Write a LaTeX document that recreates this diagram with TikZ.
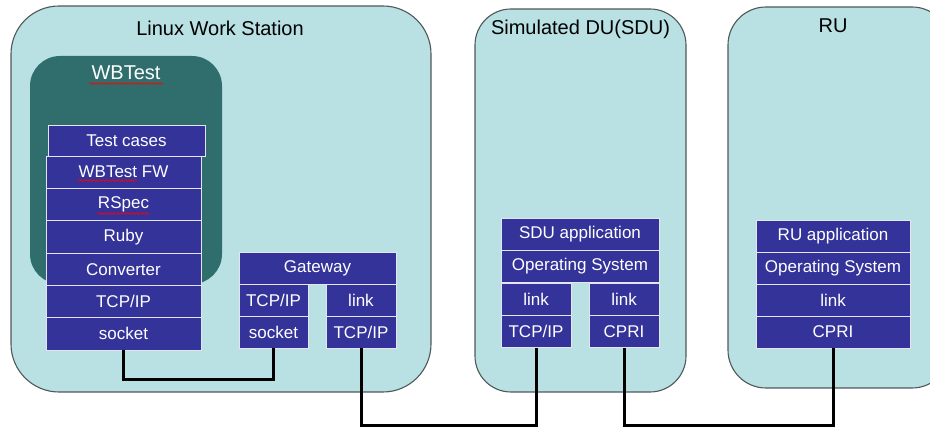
\documentclass[tikz,border=0pt]{standalone}
\usepackage{fontspec}
\setmainfont{Liberation Sans}
\usetikzlibrary{decorations.pathmorphing}

\definecolor{hostfill}{HTML}{B9E0E3}
\definecolor{hostedge}{HTML}{505858}
\definecolor{toolfill}{HTML}{2F6E6C}
\definecolor{layerfill}{HTML}{343399}
\definecolor{layeredge}{HTML}{E4E4F2}

\tikzset{
  host/.style={fill=hostfill, draw=hostedge, line width=1.1pt},
  title/.style={font=\fontsize{20}{22}\selectfont, text=black, inner sep=0pt},
  layer/.style={rectangle, fill=layerfill, draw=layeredge, line width=0.8pt,
    text=white, font=\fontsize{17}{19}\selectfont, inner sep=0pt,
    minimum height=32.4pt},
  wire/.style={line width=3pt, black},
  spell/.style={red, line width=0.6pt, decorate,
    decoration={snake, amplitude=0.9pt, segment length=3.2pt}}
}

\begin{document}
\begin{tikzpicture}[x=1pt, y=-1pt]
\useasboundingbox (0,0) rectangle (930,427);
\clip (0,0) rectangle (930,427);

% host machines
\draw[host, rounded corners=48pt] (11,6) rectangle (431,392);
\draw[host, rounded corners=36pt] (475,9) rectangle (686,392);
\draw[host, rounded corners=38pt] (728,7) rectangle (950,388);

% WBTest container
\fill[toolfill, rounded corners=30pt] (30,56) rectangle (222,284);

% titles
\node[title] (lws) at (220,28) {Linux Work Station};
\node[title] (sdu) at (580.5,29) {Simulated DU(SDU)};
\node[title] (ru)  at (833,26) {RU};
\node[title, text=white] (wbt) at (126,73) {WBTest};

% WBTest stack
\node[layer, minimum width=157pt, minimum height=31pt] (tc) at (126.5,140.5) {Test cases};
\node[layer, minimum width=155pt] (fw)   at (123.5,172.2) {WBTest FW};
\node[layer, minimum width=155pt] (rs)   at (123.5,204.5) {RSpec};
\node[layer, minimum width=155pt] (rb)   at (123.5,236.8) {Ruby};
\node[layer, minimum width=155pt] (cv)   at (123.5,269.2) {Converter};
\node[layer, minimum width=155pt] (wtcp) at (123.5,301.5) {TCP/IP};
\node[layer, minimum width=155pt] (wsk)  at (123.5,333.8) {socket};

% Gateway stack
\node[layer, minimum width=157pt, minimum height=32pt] (gw)   at (317.5,268) {Gateway};
\node[layer, minimum width=69pt, minimum height=32pt]  (gtcp) at (273.5,300) {TCP/IP};
\node[layer, minimum width=69pt, minimum height=32pt]  (gsk)  at (273.5,332) {socket};
\node[layer, minimum width=70pt, minimum height=32pt]  (glk)  at (361,300) {link};
\node[layer, minimum width=70pt, minimum height=32pt]  (gtcq) at (361,332) {TCP/IP};

% SDU stack
\node[layer, minimum width=158pt] (sapp) at (580,234.2) {SDU application};
\node[layer, minimum width=158pt] (sos)  at (580,266.6) {Operating System};
\node[layer, minimum width=70pt]  (slk1) at (536,299.2) {link};
\node[layer, minimum width=70pt]  (stcp) at (536,331.6) {TCP/IP};
\node[layer, minimum width=70pt]  (slk2) at (624,299.2) {link};
\node[layer, minimum width=70pt]  (scp)  at (624,331.6) {CPRI};

% RU stack
\node[layer, minimum width=154pt, minimum height=32pt] (rapp) at (833,236) {RU application};
\node[layer, minimum width=154pt, minimum height=32pt] (ros)  at (833,268) {Operating System};
\node[layer, minimum width=154pt, minimum height=32pt] (rlk)  at (833,300) {link};
\node[layer, minimum width=154pt, minimum height=32pt] (rcp)  at (833,332) {CPRI};

% spell-check underlines
\draw[spell] (89,83.5) -- (163,83.5);
\draw[spell] (77,180.5) -- (137,180.5);
\draw[spell] (97,213.5) -- (149,213.5);

% cabling
\draw[wire] (wsk.south) -- ++(0,29) -| (gsk.south);
\draw[wire] (gtcq.south) -- ++(0,77) -| (stcp.south);
\draw[wire] (scp.south) -- ++(0,77) -| (rcp.south);
\end{tikzpicture}
\end{document}
